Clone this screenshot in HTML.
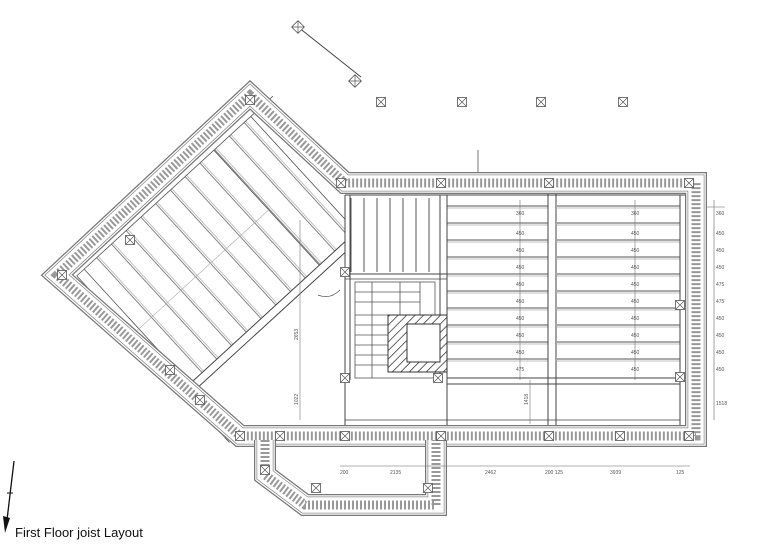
<!DOCTYPE html>
<html><head><meta charset="utf-8"><style>
html,body{margin:0;padding:0;background:#fff;width:767px;height:548px;overflow:hidden}
svg{display:block}
.t{font-family:"Liberation Sans",sans-serif;font-size:5px;fill:#555}
</style></head><body>
<svg width="767" height="548" viewBox="0 0 767 548" xmlns="http://www.w3.org/2000/svg">
<defs>
<pattern id="hj" width="10" height="17" patternUnits="userSpaceOnUse" y="205"><rect width="10" height="17" fill="#fff"/><line x1="0" y1="1" x2="10" y2="1" stroke="#555" stroke-width="1"/><line x1="0" y1="3" x2="10" y2="3" stroke="#999" stroke-width=".6"/></pattern>
<pattern id="vj" width="13" height="10" patternUnits="userSpaceOnUse" x="350"><rect width="13" height="10" fill="#fff"/><line x1="1" y1="0" x2="1" y2="10" stroke="#555" stroke-width="1"/></pattern>
<pattern id="dj" width="20" height="10" patternUnits="userSpaceOnUse"><rect width="20" height="10" fill="#fff"/><line x1="1" y1="0" x2="1" y2="10" stroke="#666" stroke-width=".8"/><line x1="3" y1="0" x2="3" y2="10" stroke="#999" stroke-width=".6"/></pattern>
<pattern id="hatch" width="6" height="6" patternUnits="userSpaceOnUse" patternTransform="rotate(45)"><rect width="6" height="6" fill="#fff"/><line x1="0" y1="0" x2="0" y2="6" stroke="#333" stroke-width="1.5"/></pattern>
<g id="xb"><rect x="-4.5" y="-4.5" width="9" height="9" fill="#fff" stroke="#555" stroke-width=".8"/><path d="M-4.5 -4.5L4.5 4.5M4.5 -4.5L-4.5 4.5" stroke="#555" stroke-width=".7"/></g>
<path id="wall" d="M345,183 L250,95 L57,275 L240,436 L696,436 L696,183 Z" fill="none"/>
<path id="ann" d="M265,440 L265,475 L305,505 L436,505 L436,440" fill="none"/>
</defs>

<clipPath id="lc"><rect x="0" y="0" width="345" height="548"/></clipPath>
<g clip-path="url(#lc)">
<g transform="translate(57,275) rotate(-42.5)">
<rect x="24" y="14" width="230" height="156" fill="url(#dj)"/>
<line x1="14" y1="170" x2="280" y2="170" stroke="#444" stroke-width="1"/>
<line x1="14" y1="178" x2="280" y2="178" stroke="#444" stroke-width="1"/>
<line x1="14" y1="14" x2="280" y2="14" stroke="#555" stroke-width=".8"/>
<line x1="14" y1="14" x2="14" y2="240" stroke="#555" stroke-width=".8"/>
<line x1="24" y1="14" x2="24" y2="240" stroke="#555" stroke-width=".8"/>
<line x1="200" y1="14" x2="200" y2="170" stroke="#555" stroke-width=".8"/>
<line x1="14" y1="95" x2="200" y2="95" stroke="#aaa" stroke-width=".6"/>
<line x1="250" y1="14" x2="250" y2="178" stroke="#555" stroke-width=".8"/>
</g>
</g>
<line x1="300" y1="220" x2="300" y2="420" stroke="#777" stroke-width=".6"/>
<text class="t" x="0" y="0" transform="translate(298,340) rotate(-90)">2653</text>
<text class="t" x="0" y="0" transform="translate(298,405) rotate(-90)">1022</text>
<path d="M318,295 Q330,300 340,290" fill="none" stroke="#555" stroke-width=".7"/>

<rect x="447" y="205" width="101" height="170" fill="url(#hj)"/>
<rect x="557" y="205" width="123" height="170" fill="url(#hj)"/>
<rect x="350" y="198" width="90" height="74" fill="url(#vj)"/>
<line x1="520" y1="200" x2="520" y2="380" stroke="#777" stroke-width=".6"/>
<line x1="635" y1="200" x2="635" y2="380" stroke="#777" stroke-width=".6"/>
<g stroke="#444" stroke-width="1">
<line x1="548" y1="188" x2="548" y2="432"/>
<line x1="556" y1="188" x2="556" y2="432"/>
<line x1="680" y1="195" x2="680" y2="430"/>
<line x1="345" y1="195" x2="345" y2="432"/>
<line x1="350" y1="195" x2="350" y2="380"/>
<line x1="440" y1="195" x2="440" y2="380"/>
<line x1="447" y1="195" x2="447" y2="432"/>
<line x1="345" y1="195" x2="690" y2="195"/>
<line x1="345" y1="274" x2="447" y2="274"/>
<line x1="345" y1="279" x2="447" y2="279" stroke-width=".8"/>
<line x1="447" y1="378" x2="680" y2="378"/>
<line x1="447" y1="384" x2="680" y2="384"/>
<line x1="345" y1="420" x2="680" y2="420" stroke-width=".8"/>
</g>
<line x1="530" y1="380" x2="530" y2="424" stroke="#777" stroke-width=".6"/>
<text class="t" x="0" y="0" transform="translate(528,405) rotate(-90)">1418</text>
<g stroke="#555" stroke-width=".8" fill="none">
<rect x="355" y="282" width="80" height="96"/>
<line x1="355" y1="292" x2="420" y2="292"/><line x1="355" y1="302" x2="420" y2="302"/>
<line x1="355" y1="315" x2="388" y2="315"/><line x1="355" y1="325" x2="388" y2="325"/>
<line x1="355" y1="335" x2="388" y2="335"/><line x1="355" y1="345" x2="388" y2="345"/>
<line x1="355" y1="355" x2="388" y2="355"/><line x1="355" y1="365" x2="388" y2="365"/>
<line x1="372" y1="282" x2="372" y2="378"/><line x1="400" y1="282" x2="400" y2="315"/>
<line x1="420" y1="282" x2="420" y2="315"/>
</g>
<rect x="388" y="315" width="59" height="57" fill="url(#hatch)" stroke="#333" stroke-width="1"/>
<rect x="407" y="324" width="33" height="38" fill="#fff" stroke="#333" stroke-width="1"/>
<line x1="478" y1="150" x2="478" y2="176" stroke="#555" stroke-width=".8"/>
<line x1="478" y1="176" x2="500" y2="183" stroke="#555" stroke-width=".8"/>

<g class="t">
<text x="516" y="215">360</text><text x="516" y="235">450</text><text x="516" y="252">450</text><text x="516" y="269">450</text><text x="516" y="286">450</text><text x="516" y="303">450</text><text x="516" y="320">450</text><text x="516" y="337">450</text><text x="516" y="354">450</text><text x="516" y="371">475</text>
<text x="631" y="215">360</text><text x="631" y="235">450</text><text x="631" y="252">450</text><text x="631" y="269">450</text><text x="631" y="286">450</text><text x="631" y="303">450</text><text x="631" y="320">450</text><text x="631" y="337">450</text><text x="631" y="354">450</text><text x="631" y="371">450</text>
<text x="716" y="215">360</text><text x="716" y="235">450</text><text x="716" y="252">450</text><text x="716" y="269">450</text><text x="716" y="286">475</text><text x="716" y="303">475</text><text x="716" y="320">450</text><text x="716" y="337">450</text><text x="716" y="354">450</text><text x="716" y="371">450</text><text x="716" y="405">1518</text>
</g>
<line x1="714" y1="200" x2="714" y2="420" stroke="#666" stroke-width=".6"/>
<line x1="700" y1="207" x2="725" y2="207" stroke="#666" stroke-width=".6"/>

<use href="#wall" stroke="#777" stroke-width="22"/>
<use href="#wall" stroke="#fff" stroke-width="19.5"/>
<use href="#wall" stroke="#888" stroke-width="17"/>
<use href="#wall" stroke="#fff" stroke-width="15.5"/>
<use href="#wall" stroke="#999" stroke-width="9" stroke-dasharray="2 2"/>
<use href="#ann" stroke="#777" stroke-width="22"/>
<use href="#ann" stroke="#fff" stroke-width="19.5"/>
<use href="#ann" stroke="#888" stroke-width="17"/>
<use href="#ann" stroke="#fff" stroke-width="15.5"/>
<use href="#ann" stroke="#999" stroke-width="9" stroke-dasharray="2 2"/>
<rect x="277" y="447" width="148" height="2" fill="#fff"/>

<use href="#xb" x="341" y="183"/><use href="#xb" x="441" y="183"/><use href="#xb" x="549" y="183"/><use href="#xb" x="689" y="183"/>
<use href="#xb" x="240" y="436"/><use href="#xb" x="280" y="436"/><use href="#xb" x="345" y="436"/><use href="#xb" x="441" y="436"/><use href="#xb" x="549" y="436"/><use href="#xb" x="620" y="436"/><use href="#xb" x="689" y="436"/>
<use href="#xb" x="680" y="305"/><use href="#xb" x="680" y="377"/><use href="#xb" x="345" y="272"/><use href="#xb" x="345" y="378"/><use href="#xb" x="438" y="378"/>
<use href="#xb" x="250" y="100"/><use href="#xb" x="62" y="275"/><use href="#xb" x="130" y="240"/><use href="#xb" x="200" y="400"/><use href="#xb" x="170" y="370"/>
<use href="#xb" x="316" y="488"/><use href="#xb" x="428" y="488"/><use href="#xb" x="265" y="470"/>

<line x1="340" y1="466" x2="690" y2="466" stroke="#666" stroke-width=".6"/>
<g class="t"><text x="340" y="474">200</text><text x="390" y="474">2135</text><text x="485" y="474">2462</text><text x="545" y="474">200 125</text><text x="610" y="474">3939</text><text x="676" y="474">125</text></g>

<line x1="298" y1="27" x2="361" y2="77" stroke="#444" stroke-width="1"/>
<use href="#xb" x="298" y="27" transform="rotate(45 298 27)"/>
<use href="#xb" x="355" y="81" transform="rotate(45 355 81)"/>
<use href="#xb" x="381" y="102"/><use href="#xb" x="462" y="102"/><use href="#xb" x="541" y="102"/><use href="#xb" x="623" y="102"/>

<line x1="14" y1="461" x2="7" y2="520" stroke="#111" stroke-width="1.3"/>
<line x1="7" y1="493" x2="13" y2="493" stroke="#111" stroke-width="1"/>
<path d="M3,516 L10,518 L5,533 Z" fill="#111"/>
<text x="15" y="537" font-family="Liberation Sans, sans-serif" font-size="13" fill="#111">First Floor joist Layout</text>
</svg>
</body></html>
